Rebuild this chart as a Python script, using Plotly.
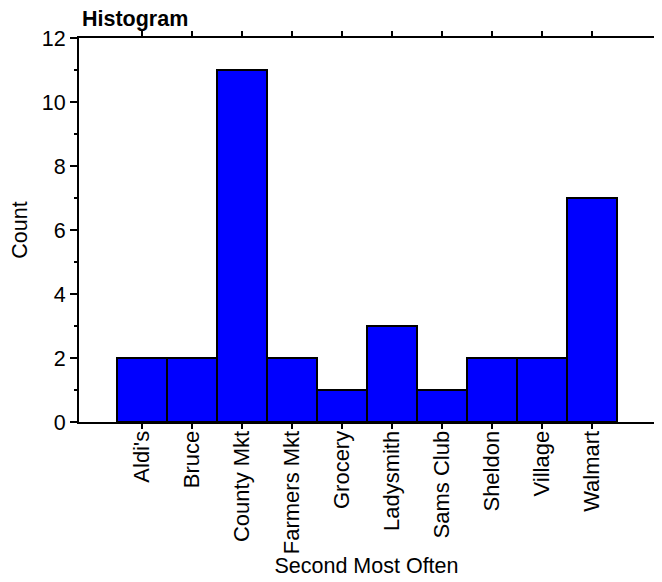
import plotly.graph_objects as go

categories = ["Aldi's", "Bruce", "County Mkt", "Farmers Mkt", "Grocery",
              "Ladysmith", "Sams Club", "Sheldon", "Village", "Walmart"]
counts = [2, 2, 11, 2, 1, 3, 1, 2, 2, 7]

fig = go.Figure(go.Bar(
    x=categories, y=counts,
    marker=dict(color="#0000FF", line=dict(color="black", width=2)),
))

font = "Liberation Sans, Arial, sans-serif"
fig.update_layout(
    width=662, height=582,
    margin=dict(l=71, r=7, t=30, b=168),
    paper_bgcolor="white", plot_bgcolor="white",
    bargap=0,
    showlegend=False,
    font=dict(family=font, size=21.5, color="black"),
    title=dict(text="<b>Histogram</b>", xref="paper", x=3/576, xanchor="left",
               yref="container", y=1-10/582, yanchor="middle",
               font=dict(size=21.5, family=font)),
    xaxis=dict(
        type="category", range=[-1.25, 10.25],
        showline=True, linecolor="black", linewidth=2, mirror="ticks",
        ticks="outside", ticklen=5, tickwidth=2, tickcolor="black",
        tickangle=-90, showgrid=False, ticklabelstandoff=-7,
        title=dict(text="Second Most Often", standoff=2, font=dict(size=21.5)),
        tickfont=dict(size=22),
    ),
    yaxis=dict(
        range=[0, 12], dtick=2, tick0=0,
        showline=True, linecolor="black", linewidth=2, mirror="ticks",
        ticks="outside", ticklen=7, tickwidth=2, tickcolor="black",
        showgrid=False, zeroline=False,
        minor=dict(dtick=1, ticks="outside", ticklen=3, tickwidth=2, tickcolor="black"),
        title=dict(text="Count", standoff=12, font=dict(size=21.5)),
        tickfont=dict(size=21.5),
    ),
)

fig.write_html("out.html")
